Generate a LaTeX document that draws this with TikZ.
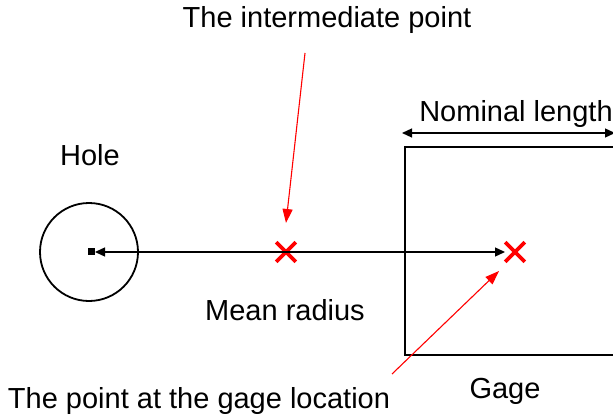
\documentclass[tikz,border=0pt]{standalone}
\usepackage{fontspec}
\setmainfont{Liberation Sans}
\usetikzlibrary{arrows.meta,shapes.misc}
\begin{document}
\begin{tikzpicture}[x=0.5pt,y=-0.5pt,
  lbl/.style={inner sep=0pt,anchor=base,font=\fontsize{14.5}{16}\selectfont},
  xmark/.style={draw=red,cross out,line width=1.8pt,minimum size=8pt,inner sep=0pt},
  redarrow/.style={draw=red,line width=0.55pt,-{Triangle[length=7pt,width=5pt]}},
  blk/.style={draw=black,line width=0.9pt},
  dimline/.style={line width=0.65pt,{Triangle[length=5pt,width=4.5pt]}-{Triangle[length=5pt,width=4.5pt]}}]
\useasboundingbox (0,0) rectangle (613,416);
% hole
\node[blk,circle,minimum size=49pt,inner sep=0pt] (hole) at (89,252) {};
\node[fill=black,minimum size=3.5pt,inner sep=0pt] (sq) at (91.5,251.5) {};
% gage box
\draw[blk] (613,147) -- (405,147) -- (405,355) -- (613,355);
\coordinate (gl) at (402,133);
\coordinate (gr) at (615,133);
\draw[dimline] (gl) -- (gr);
% marks
\node[xmark] (mid) at (286,252) {};
\node[xmark] (gp) at (515,252) {};
% main line
\coordinate (ra) at (95,252);
\coordinate (rb) at (505,252);
\draw[dimline] (ra) -- (rb);
% red arrows
\coordinate (s1) at (305,53);
\coordinate (t1) at (286,223);
\draw[redarrow] (s1) -- (t1);
\coordinate (s2) at (392,374);
\coordinate (t2) at (499,271);
\draw[redarrow] (s2) -- (t2);
% labels
\node[lbl] (l1) at (327,28) {The intermediate point};
\node[lbl] (l2) at (90,166) {Hole};
\node[lbl] (l3) at (516,122) {Nominal length};
\node[lbl] (l4) at (285,320) {Mean radius};
\node[lbl] (l5) at (199,408) {The point at the gage location};
\node[lbl] (l6) at (505,398) {Gage};
\end{tikzpicture}
\end{document}
